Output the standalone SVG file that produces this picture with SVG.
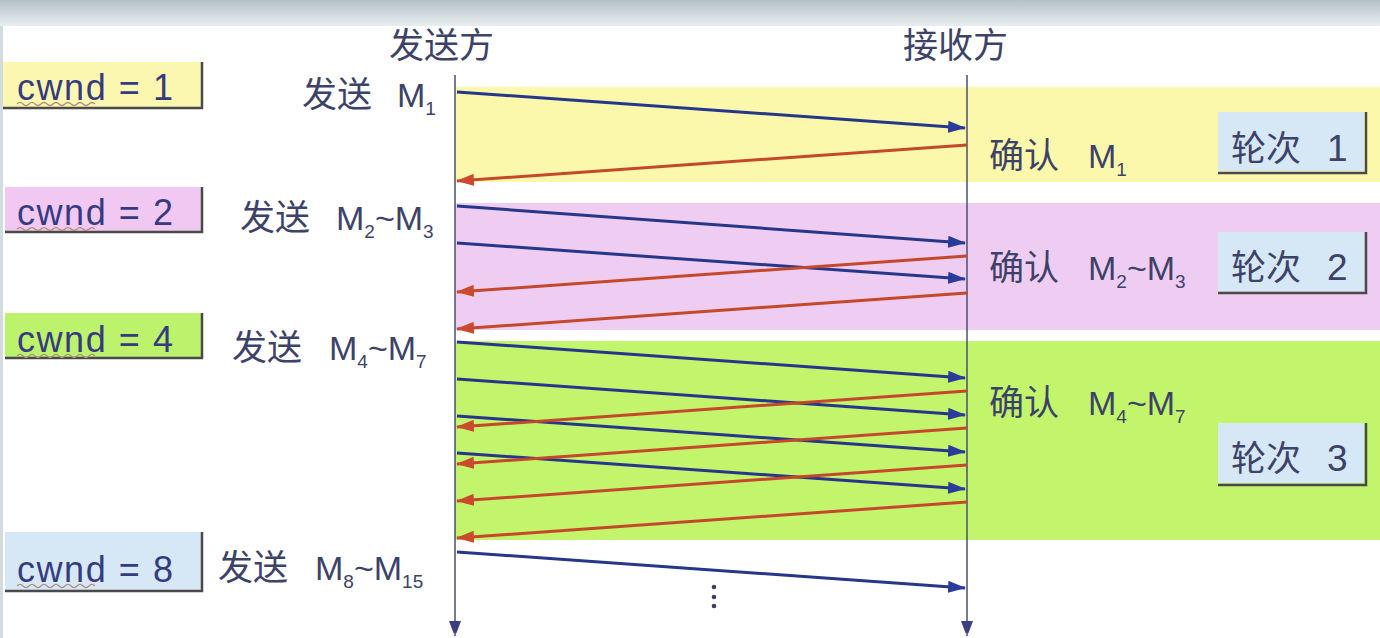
<svg xmlns="http://www.w3.org/2000/svg" width="1380" height="638" viewBox="0 0 1380 638">
<style>
.cjk{font-family:"Noto Sans CJK SC","Noto Sans",sans-serif;font-size:35px;fill:#3d4268}
.lat{font-family:"Liberation Sans",Arial,sans-serif;font-size:34px;fill:#3d4268}
.num{font-family:"Liberation Sans",Arial,sans-serif;font-size:37px;fill:#3d4268}
.sub{font-size:19px}
.cw{font-family:"Liberation Sans",Arial,sans-serif;font-size:36px;fill:#363b80}
.shadow{fill:none;stroke:#4a4a4a;stroke-width:2.5}
.squig{fill:none;stroke:#b08a7a;stroke-width:1.2}
.blue{stroke:#263688;stroke-width:3;fill:none;marker-end:url(#ab)}
.red{stroke:#c4482a;stroke-width:3;fill:none;marker-end:url(#ar)}
.life{stroke:#4b4f70;stroke-width:1.5;fill:none;marker-end:url(#al)}
.lun{fill:#d6e7f6}
</style>
<defs>
<linearGradient id="top" x1="0" y1="0" x2="0" y2="1">
<stop offset="0" stop-color="#b3c1c8"/>
<stop offset="1" stop-color="#e8eef0"/>
</linearGradient>
<marker id="ab" markerUnits="userSpaceOnUse" markerWidth="18" markerHeight="12" refX="17" refY="6" orient="auto"><path d="M0,0 L18,6 L0,12 z" fill="#2a3c9a"/></marker>
<marker id="ar" markerUnits="userSpaceOnUse" markerWidth="18" markerHeight="12" refX="17" refY="6" orient="auto"><path d="M0,0 L18,6 L0,12 z" fill="#c94a2c"/></marker>
<marker id="al" markerUnits="userSpaceOnUse" markerWidth="12" markerHeight="16" refX="15" refY="6" orient="auto"><path d="M0,0 L16,6 L0,12 z" fill="#3c4080"/></marker>
</defs>
<rect x="0" y="0" width="1380" height="638" fill="#ffffff"/>
<rect x="0" y="0" width="1380" height="26" fill="url(#top)"/>
<rect x="0" y="26" width="3" height="612" fill="#d2dbdf"/>

<g id="bands">
<rect x="455" y="87" width="925" height="95" fill="#fbf8ab"/>
<rect x="455" y="203" width="925" height="127" fill="#efcdf3"/>
<rect x="455" y="341" width="925" height="199" fill="#c2f46c"/>
</g>

<g id="sender">
<text class="cjk" x="389" y="58">发送方</text>
</g>
<g id="receiver">
<text class="cjk" x="903" y="58">接收方</text>
</g>

<g id="cwnd1">
<rect x="3" y="62" width="198" height="45" fill="#fbf7b0"/>
<path class="shadow" d="M202,62 V108 H3"/>
<text class="cw" x="17" y="100" textLength="156" lengthAdjust="spacing">cwnd = 1</text>
<path class="squig" d="M17,104 q3,-3 6,0 t6,0 t6,0 t6,0 t6,0 t6,0 t6,0 t6,0 t6,0 t6,0 t6,0 t6,0 t6,0"/>
</g>
<g id="cwnd2">
<rect x="5" y="187" width="196" height="44" fill="#f0c8f2"/>
<path class="shadow" d="M202,187 V232 H5"/>
<text class="cw" x="17" y="225" textLength="156" lengthAdjust="spacing">cwnd = 2</text>
<path class="squig" d="M17,229 q3,-3 6,0 t6,0 t6,0 t6,0 t6,0 t6,0 t6,0 t6,0 t6,0 t6,0 t6,0 t6,0 t6,0"/>
</g>
<g id="cwnd4">
<rect x="5" y="313" width="196" height="44" fill="#bdf26c"/>
<path class="shadow" d="M202,313 V358 H5"/>
<text class="cw" x="17" y="352" textLength="156" lengthAdjust="spacing">cwnd = 4</text>
<path class="squig" d="M17,356 q3,-3 6,0 t6,0 t6,0 t6,0 t6,0 t6,0 t6,0 t6,0 t6,0 t6,0 t6,0 t6,0 t6,0"/>
</g>
<g id="cwnd8">
<rect x="5" y="532" width="196" height="58" fill="#d6e7f6"/>
<path class="shadow" d="M202,532 V591 H5"/>
<text class="cw" x="17" y="582" textLength="156" lengthAdjust="spacing">cwnd = 8</text>
<path class="squig" d="M17,586 q3,-3 6,0 t6,0 t6,0 t6,0 t6,0 t6,0 t6,0 t6,0 t6,0 t6,0 t6,0 t6,0 t6,0"/>
</g>

<g id="send1">
<text class="cjk" x="302" y="107">发送</text>
<text class="lat" x="397" y="107">M<tspan class="sub" dy="8">1</tspan></text>
</g>
<g id="send2">
<text class="cjk" x="240" y="230">发送</text>
<text class="lat" x="336" y="230">M<tspan class="sub" dy="8">2</tspan><tspan dy="-8">~M</tspan><tspan class="sub" dy="8">3</tspan></text>
</g>
<g id="send4">
<text class="cjk" x="232" y="360">发送</text>
<text class="lat" x="329" y="360">M<tspan class="sub" dy="8">4</tspan><tspan dy="-8">~M</tspan><tspan class="sub" dy="8">7</tspan></text>
</g>
<g id="send8">
<text class="cjk" x="218" y="580">发送</text>
<text class="lat" x="315" y="580">M<tspan class="sub" dy="8">8</tspan><tspan dy="-8">~M</tspan><tspan class="sub" dy="8">15</tspan></text>
</g>

<g id="ack1">
<text class="cjk" x="989" y="168">确认</text>
<text class="lat" x="1088" y="168">M<tspan class="sub" dy="8">1</tspan></text>
</g>
<g id="ack2">
<text class="cjk" x="989" y="280">确认</text>
<text class="lat" x="1088" y="280">M<tspan class="sub" dy="8">2</tspan><tspan dy="-8">~M</tspan><tspan class="sub" dy="8">3</tspan></text>
</g>
<g id="ack4">
<text class="cjk" x="989" y="415">确认</text>
<text class="lat" x="1088" y="415">M<tspan class="sub" dy="8">4</tspan><tspan dy="-8">~M</tspan><tspan class="sub" dy="8">7</tspan></text>
</g>

<g id="round1">
<rect class="lun" x="1218" y="112" width="146" height="59"/>
<path class="shadow" d="M1366,112 V173 H1218"/>
<text class="cjk" x="1231" y="161">轮次</text>
<text class="num" x="1327" y="161">1</text>
</g>
<g id="round2">
<rect class="lun" x="1218" y="232" width="146" height="59"/>
<path class="shadow" d="M1366,232 V293 H1218"/>
<text class="cjk" x="1231" y="280">轮次</text>
<text class="num" x="1327" y="280">2</text>
</g>
<g id="round3">
<rect class="lun" x="1218" y="423" width="146" height="60"/>
<path class="shadow" d="M1366,423 V485 H1218"/>
<text class="cjk" x="1231" y="471">轮次</text>
<text class="num" x="1327" y="471">3</text>
</g>

<g id="connectors">
<line class="life" x1="455" y1="75" x2="455" y2="636"/>
<line class="life" x1="967" y1="75" x2="967" y2="636"/>
<line class="blue" x1="457" y1="92" x2="965" y2="128"/>
<line class="red" x1="967" y1="145" x2="457" y2="181"/>
<line class="blue" x1="457" y1="206" x2="965" y2="243"/>
<line class="blue" x1="457" y1="243" x2="965" y2="279"/>
<line class="red" x1="967" y1="256" x2="457" y2="292"/>
<line class="red" x1="967" y1="293" x2="457" y2="329"/>
<line class="blue" x1="457" y1="342" x2="965" y2="378"/>
<line class="blue" x1="457" y1="379" x2="965" y2="415"/>
<line class="blue" x1="457" y1="416" x2="965" y2="452"/>
<line class="blue" x1="457" y1="453" x2="965" y2="489"/>
<line class="red" x1="967" y1="391" x2="457" y2="427"/>
<line class="red" x1="967" y1="428" x2="457" y2="464"/>
<line class="red" x1="967" y1="465" x2="457" y2="501"/>
<line class="red" x1="967" y1="502" x2="457" y2="538"/>
<line class="blue" x1="457" y1="552" x2="965" y2="588"/>
</g>
<g id="dots" fill="#3c4068">
<circle cx="714" cy="587" r="2.3"/>
<circle cx="714" cy="597" r="2.3"/>
<circle cx="714" cy="606" r="2.3"/>
</g>
</svg>
